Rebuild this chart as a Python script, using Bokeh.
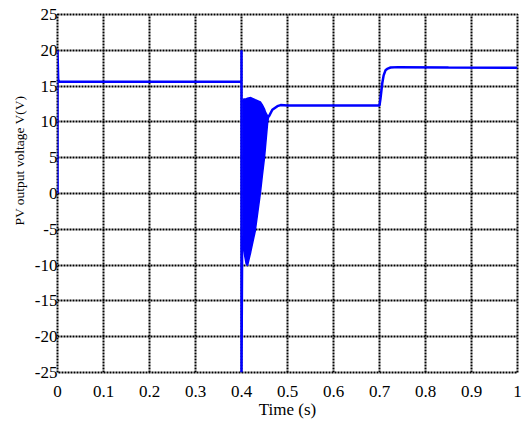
from bokeh.plotting import figure
from bokeh.models import FixedTicker, NumeralTickFormatter, Title
from bokeh.embed import file_html
from bokeh.resources import INLINE

# ---- data ----
# start-up and first step (t = 0 .. 0.4), including the switching spike at 0.4 s
t_start = [0.0, 0.0, 0.0015, 0.004, 0.4, 0.4, 0.4, 0.4015]
v_start = [0.0, 20.0, 15.9, 15.6, 15.6, 20.0, -25.0, -6.0]

# envelope of the fast oscillation after 0.4 s
t_env = [0.4015, 0.405, 0.41, 0.413, 0.42, 0.43, 0.441, 0.445, 0.45, 0.452, 0.457, 0.459]
v_env_upper = [12.8, 13.2, 13.2, 13.3, 13.4, 13.1, 12.8, 12.4, 11.8, 11.4, 10.8, 10.7]
v_env_lower = [-6.0, -8.0, -9.8, -10.1, -8.2, -5.2, 0.0, 2.3, 5.0, 6.4, 10.0, 10.7]

# settling and second step at 0.7 s
t_end = [0.459, 0.467, 0.478, 0.485, 0.5, 0.7, 0.702, 0.706, 0.709, 0.713, 0.718, 0.724, 0.74, 0.85, 1.0]
v_end = [10.7, 11.7, 12.2, 12.35, 12.3, 12.3, 13.2, 15.4, 16.5, 17.2, 17.45, 17.6, 17.65, 17.6, 17.55]

x_ticks = [0, 0.1, 0.2, 0.3, 0.4, 0.5, 0.6, 0.7, 0.8, 0.9, 1.0]
y_ticks = [-25, -20, -15, -10, -5, 0, 5, 10, 15, 20, 25]

x_label = "Time (s)"
y_label = "PV output voltage V(V)"

BLUE = "#0000FF"
FONT = "Liberation Serif"

p = figure(width=528, height=421, x_range=(0, 1), y_range=(-25, 25),
           output_backend="svg", toolbar_location=None,
           min_border_left=57, min_border_right=11, min_border_top=14, min_border_bottom=47)
p.background_fill_color = "white"
p.border_fill_color = "white"

# grid: thick black dotted
for g in (p.xgrid, p.ygrid):
    g.grid_line_color = "black"
    g.grid_line_width = 2
    g.grid_line_dash = "2 1"
p.outline_line_color = "black"
p.outline_line_width = 2
p.outline_line_dash = "2 1"

p.xaxis.ticker = FixedTicker(ticks=x_ticks)
p.yaxis.ticker = FixedTicker(ticks=y_ticks)
p.xaxis.formatter = NumeralTickFormatter(format="0.[0]")
p.yaxis.formatter = NumeralTickFormatter(format="0")
for ax in (p.xaxis, p.yaxis):
    ax.axis_line_color = None
    ax.major_tick_line_color = None
    ax.minor_tick_line_color = None
    ax.major_tick_out = 0
    ax.major_tick_in = 0
    ax.major_label_text_font = FONT
    ax.major_label_text_font_size = "17px"
    ax.major_label_text_color = "black"
p.xaxis.major_label_standoff = 13
p.yaxis.major_label_standoff = 0

p.xaxis.axis_label = x_label
p.xaxis.axis_label_text_font = FONT
p.xaxis.axis_label_text_font_size = "17px"
p.xaxis.axis_label_text_font_style = "normal"
p.xaxis.axis_label_text_color = "black"
p.xaxis.axis_label_standoff = 0

# y title placed toward the top like the reference
p.add_layout(Title(text=y_label, align="right", offset=81, standoff=9,
                   text_font=FONT, text_font_size="13.5px", text_font_style="normal",
                   text_color="black"), "left")

# signal
p.line(t_start, v_start, line_color=BLUE, line_width=2.5)
p.varea(x=t_env, y1=v_env_lower, y2=v_env_upper, fill_color=BLUE)
p.line(t_env, v_env_upper, line_color=BLUE, line_width=1.5)
p.line(t_env, v_env_lower, line_color=BLUE, line_width=1.5)
p.line(t_end, v_end, line_color=BLUE, line_width=2.5)

open("out.html", "w").write(file_html(p, INLINE))
